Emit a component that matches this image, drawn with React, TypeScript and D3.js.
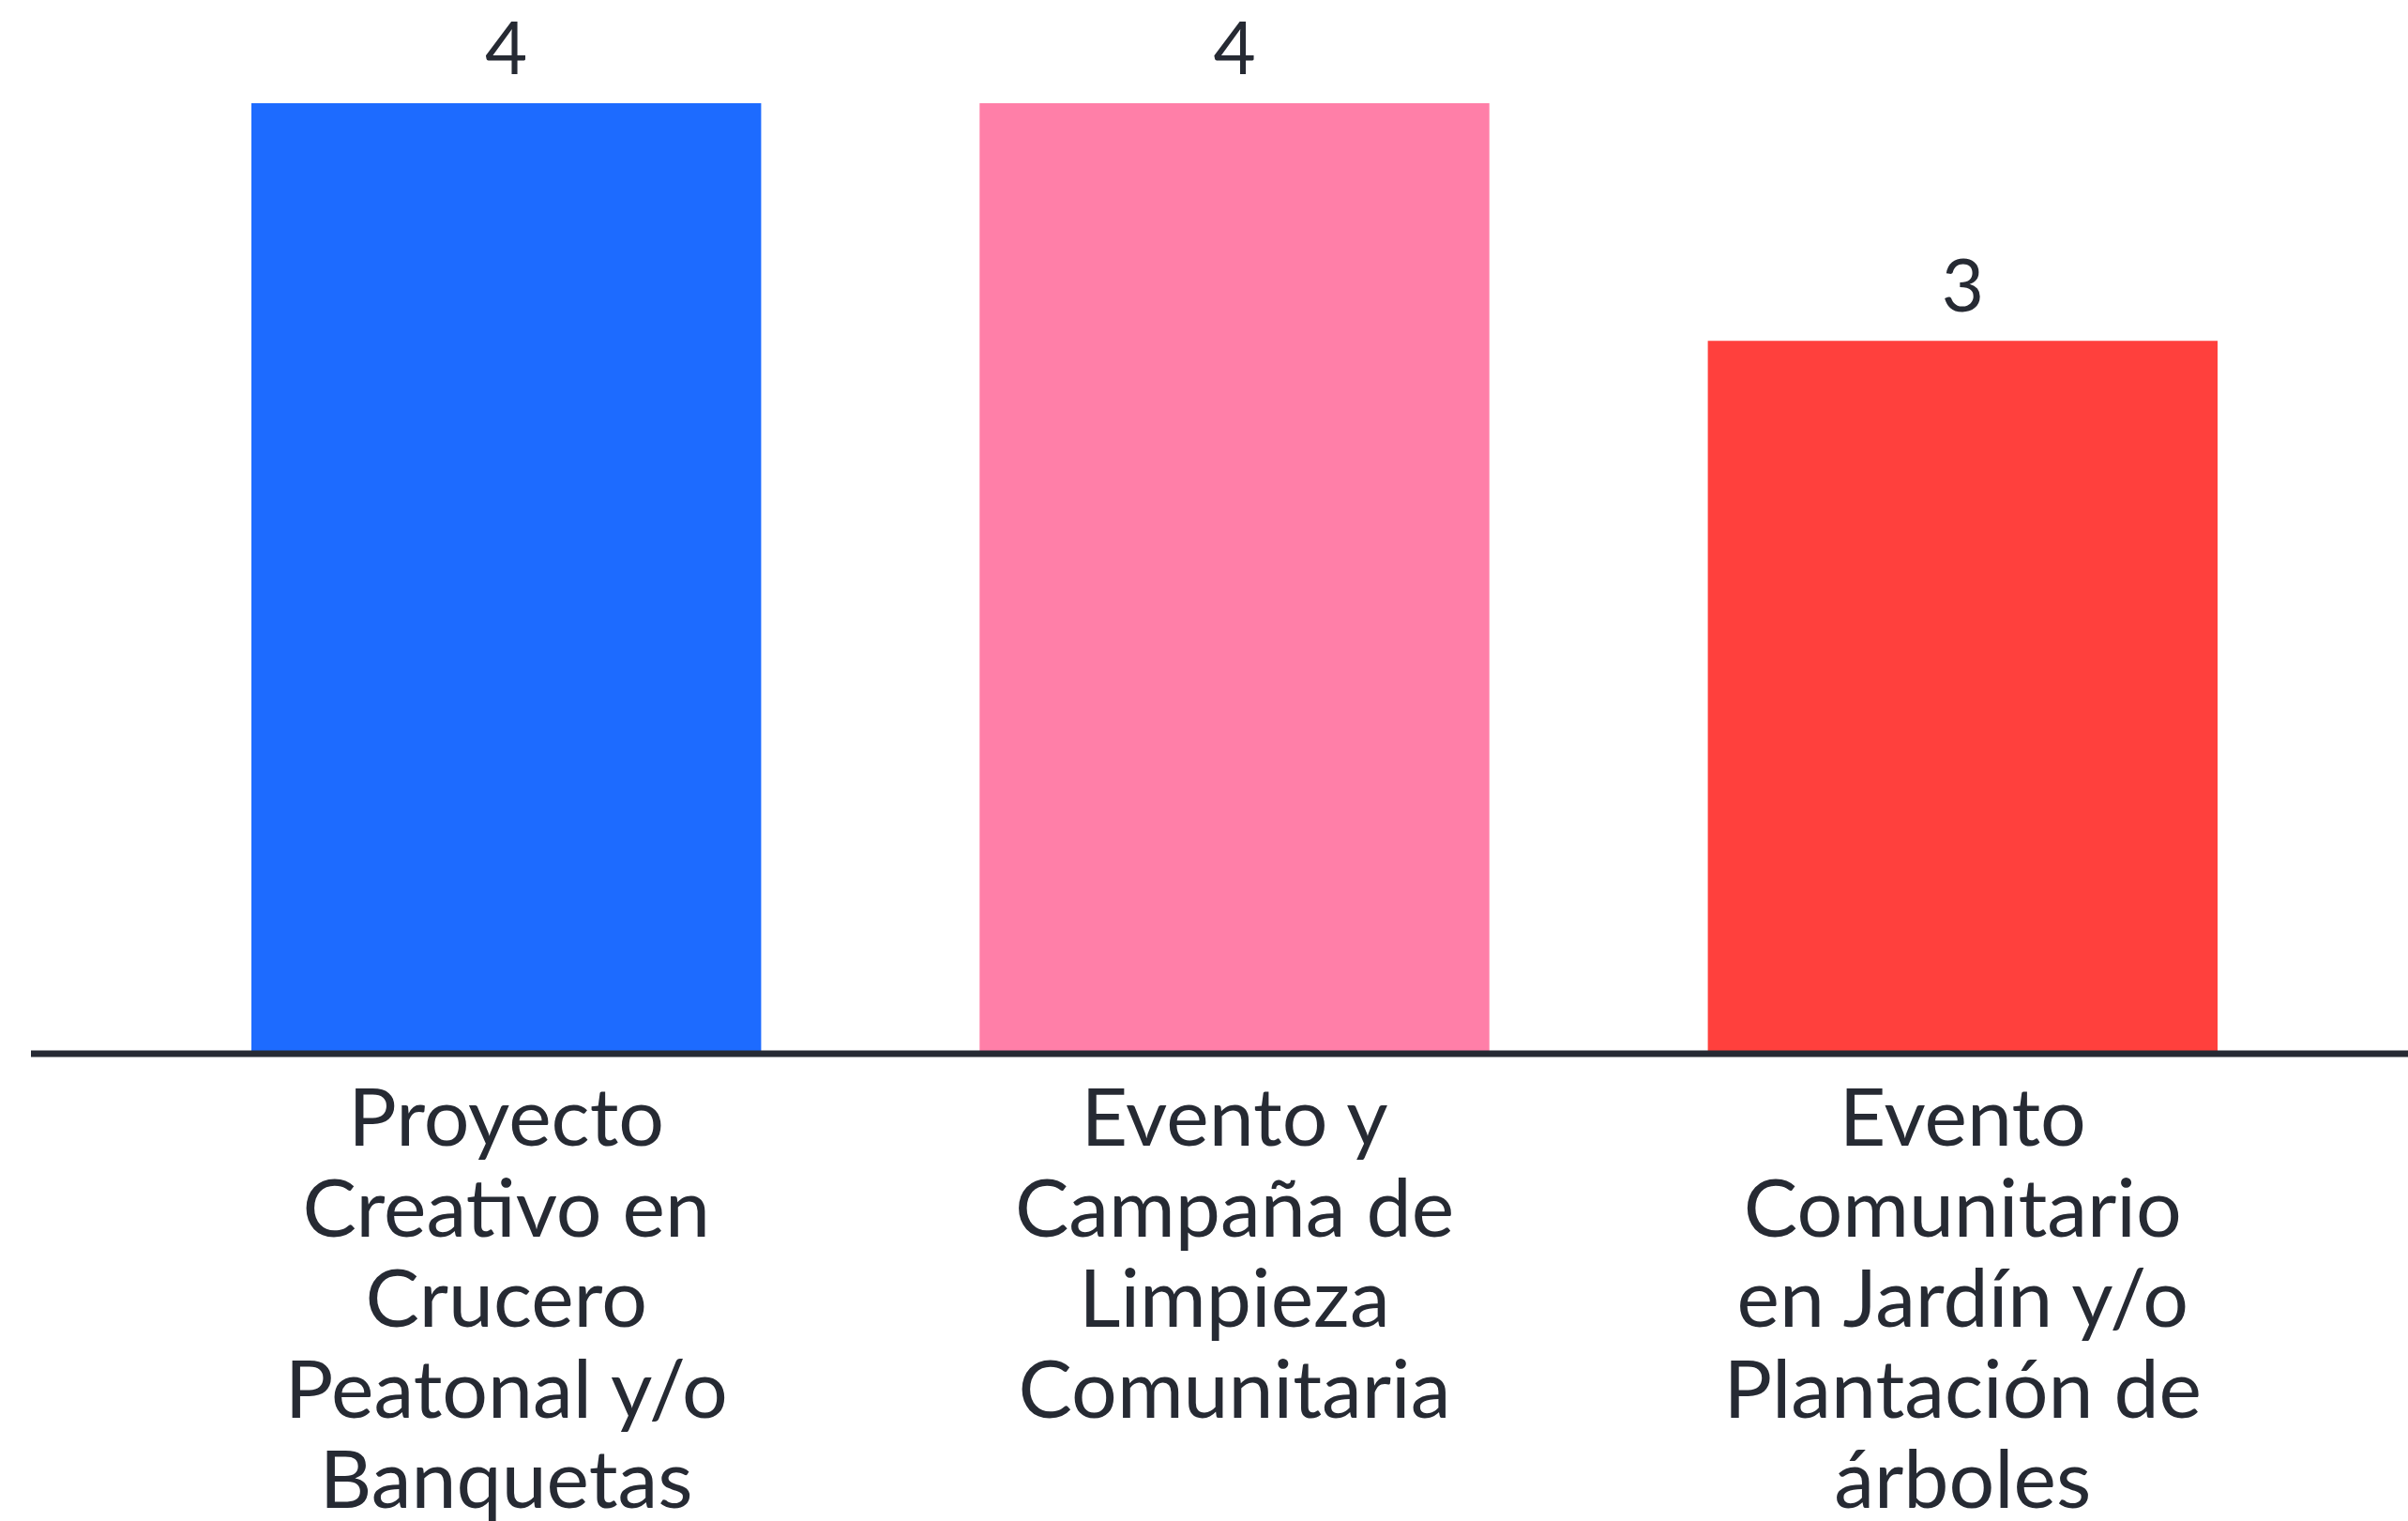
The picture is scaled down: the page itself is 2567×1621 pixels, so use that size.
import * as d3 from "d3";

const categories = ["proyecto", "evento", "jardin"];
const values = [4, 4, 3];
const tickLabels = [
  ["Proyecto", "Creativo en", "Crucero", "Peatonal y/o", "Banquetas"],
  ["Evento y", "Campaña de", "Limpieza", "Comunitaria"],
  ["Evento", "Comunitario", "en Jardín y/o", "Plantación de", "árboles"],
];
const colors = ["#1d6bff", "#ff7fa8", "#ff403d"];

const width = 2567;
const height = 1621;
const baseline = 1123;
const plotTop = 110;
const font = "Lato, 'Noto Sans', sans-serif";
const ink = "#262a33";

export default function App() {
  const x = d3
    .scaleBand<string>()
    .domain(categories)
    .range([268, 2364])
    .paddingInner(0.3)
    .paddingOuter(0);

  // max value sits at plotTop
  const y = d3.scaleLinear().domain([0, d3.max(values) ?? 1]).range([baseline, plotTop]);

  const cx = (c: string) => (x(c) ?? 0) + x.bandwidth() / 2;

  return (
    <svg
      width={width}
      height={height}
      style={{ position: "absolute", left: 0, top: 0, background: "#fff" }}
      fontFamily={font}
    >
      {/* bars */}
      {categories.map((c, i) => (
        <rect
          key={c}
          x={x(c)}
          y={y(values[i])}
          width={x.bandwidth()}
          height={baseline - y(values[i])}
          fill={colors[i]}
        />
      ))}

      {/* value labels */}
      {categories.map((c, i) => (
        <text key={c} x={cx(c)} y={y(values[i]) - 31} textAnchor="middle" fontSize={78} fill={ink}>
          {values[i]}
        </text>
      ))}

      {/* baseline */}
      <line x1={33} x2={width} y1={baseline} y2={baseline} stroke={ink} strokeWidth={7} />

      {/* category labels */}
      {categories.map((c, i) => (
        <text key={c} x={cx(c)} y={baseline + 98} textAnchor="middle" fontSize={86} fill={ink}>
          {tickLabels[i].map((line, j) => (
            <tspan key={j} x={cx(c)} dy={j === 0 ? 0 : 96.5}>
              {line}
            </tspan>
          ))}
        </text>
      ))}
    </svg>
  );
}
